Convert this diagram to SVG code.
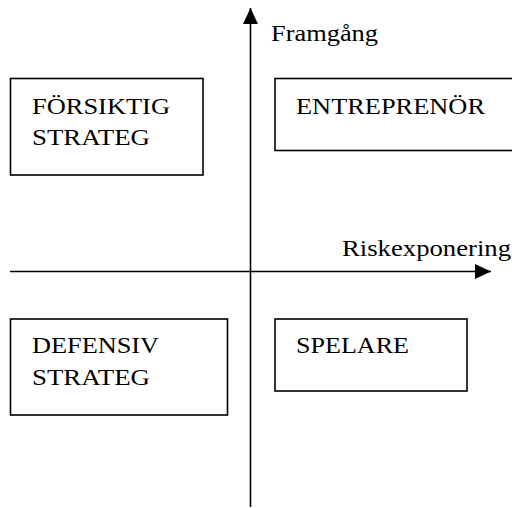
<svg xmlns="http://www.w3.org/2000/svg" width="512" height="508" viewBox="0 0 512 508">
<style>
.box{fill:#fff;stroke:#000;stroke-width:1.6}
.ax{stroke:#000;stroke-width:1.6;fill:none}
text{font-family:"Liberation Serif","Times New Roman",serif;font-size:24px;fill:#000}
</style>
<defs>
<marker id="ah2" viewBox="0 0 16 16" refX="16" refY="8" markerWidth="16" markerHeight="16" markerUnits="userSpaceOnUse" orient="auto">
<path d="M0,0.5 L16,8 L0,15.5 z" fill="#000"/>
</marker>
</defs>
<rect width="512" height="508" fill="#fff"/>
<g id="connectors">
<line class="ax" x1="250.5" y1="507" x2="250.5" y2="8" marker-end="url(#ah2)"/>
<line class="ax" x1="10" y1="271.5" x2="491" y2="271.5" marker-end="url(#ah2)"/>
</g>
<g id="label-y"><text x="271" y="41" textLength="107" lengthAdjust="spacingAndGlyphs">Framgång</text></g>
<g id="label-x"><text x="342" y="256" textLength="169" lengthAdjust="spacingAndGlyphs">Riskexponering</text></g>
<g id="forsiktig">
<rect class="box" x="10.5" y="78.5" width="192.5" height="96.5"/>
<text x="32" y="114" textLength="138" lengthAdjust="spacingAndGlyphs">FÖRSIKTIG</text>
<text x="32" y="145" textLength="118" lengthAdjust="spacingAndGlyphs">STRATEG</text>
</g>
<g id="entreprenor">
<rect class="box" x="275" y="78.5" width="250" height="72"/>
<text x="296" y="114" textLength="189" lengthAdjust="spacingAndGlyphs">ENTREPRENÖR</text>
</g>
<g id="defensiv">
<rect class="box" x="10.5" y="319" width="217" height="96"/>
<text x="32" y="353" textLength="127" lengthAdjust="spacingAndGlyphs">DEFENSIV</text>
<text x="32" y="385" textLength="118" lengthAdjust="spacingAndGlyphs">STRATEG</text>
</g>
<g id="spelare">
<rect class="box" x="275" y="319" width="192" height="72"/>
<text x="296" y="353" textLength="113" lengthAdjust="spacingAndGlyphs">SPELARE</text>
</g>
</svg>
